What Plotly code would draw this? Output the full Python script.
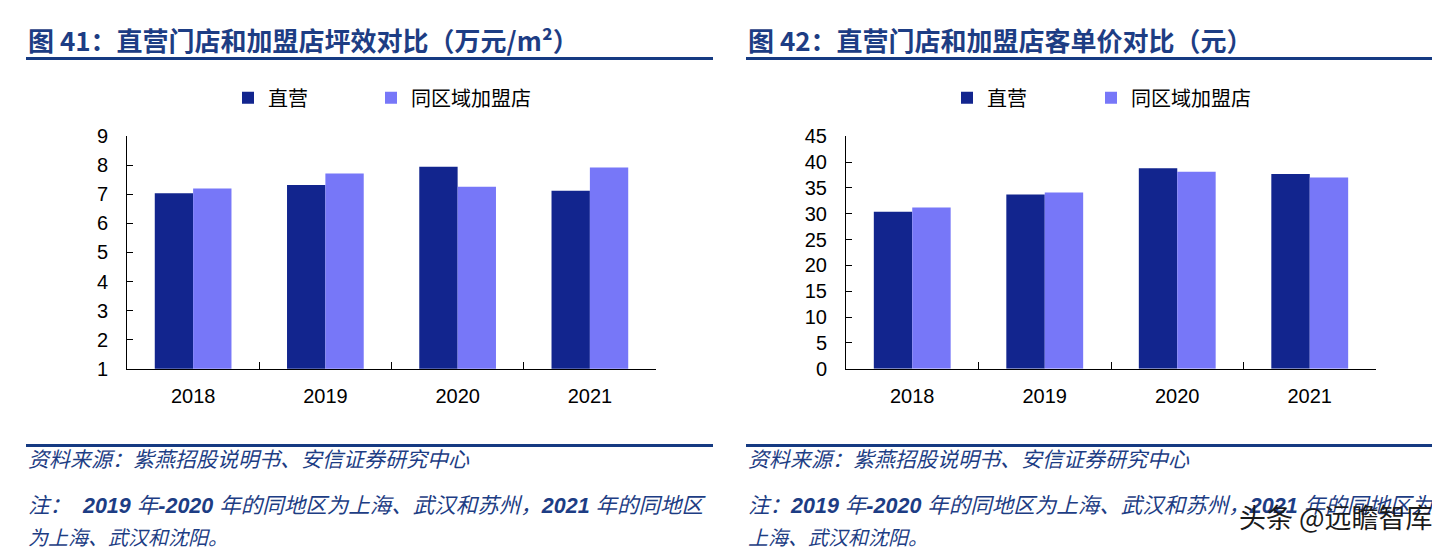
import plotly.graph_objects as go

# categories
years = ["2018", "2019", "2020", "2021"]

# 图41 坪效（万元/m2）
eff_direct = [7.04, 7.32, 7.95, 7.12]
eff_franchise = [7.20, 7.72, 7.26, 7.92]

# 图42 客单价（元）
price_direct = [30.4, 33.7, 38.8, 37.7]
price_franchise = [31.2, 34.1, 38.1, 37.0]

DARK = "#12258E"
LIGHT = "#7777F8"
BLUE = "#1D3D84"
W, H = 1440, 560

def px(x):
    return x / W

def py(y):
    return 1 - y / H

fig = go.Figure()
fig.add_trace(go.Bar(x=years, y=eff_direct, name="直营", marker_color=DARK,
                     xaxis="x", yaxis="y", legend="legend"))
fig.add_trace(go.Bar(x=years, y=eff_franchise, name="同区域加盟店", marker_color=LIGHT,
                     xaxis="x", yaxis="y", legend="legend2"))
fig.add_trace(go.Bar(x=years, y=price_direct, name="直营", marker_color=DARK,
                     xaxis="x2", yaxis="y2", legend="legend3"))
fig.add_trace(go.Bar(x=years, y=price_franchise, name="同区域加盟店", marker_color=LIGHT,
                     xaxis="x2", yaxis="y2", legend="legend4"))
fig.update_traces(marker_line_width=0, showlegend=True)

tickfont = dict(family="Liberation Sans, Arial", size=20, color="#000")
xcommon = dict(type="category", range=[-0.5, 3.5], showline=True, linecolor="#000",
               linewidth=1, ticks="inside", tickson="boundaries", ticklen=7,
               tickcolor="#000", tickfont=tickfont, showgrid=False, zeroline=False,
               ticklabelstandoff=9)
ycommon = dict(showline=True, linecolor="#000", linewidth=1, ticks="inside",
               ticklen=6, tickcolor="#000", tickfont=tickfont, showgrid=False,
               zeroline=False, ticklabelstandoff=14, domain=[py(364), py(122)])

legfont = dict(family="Noto Sans CJK SC", size=20, color="#000")
legcommon = dict(orientation="h", yanchor="middle", xanchor="left", font=legfont,
                 bgcolor="rgba(0,0,0,0)", itemclick=False, y=py(82))

fig.update_layout(
    width=W, height=H,
    margin=dict(l=0, r=0, t=0, b=0),
    paper_bgcolor="white", plot_bgcolor="white",
    showlegend=True,
    barmode="group", bargap=0.42, bargroupgap=0,
    xaxis=dict(xcommon, domain=[px(119), px(648)], anchor="y"),
    yaxis=dict(ycommon, range=[1, 9], dtick=1, anchor="x"),
    xaxis2=dict(xcommon, domain=[px(838), px(1368)], anchor="y2"),
    yaxis2=dict(ycommon, range=[0, 45], dtick=5, anchor="x2"),
    legend=dict(legcommon, x=px(220)),
    legend2=dict(legcommon, x=px(363)),
    legend3=dict(legcommon, x=px(939)),
    legend4=dict(legcommon, x=px(1083)),
)

titlefont = dict(family="Noto Sans CJK SC", size=26, color=BLUE)
srcfont = dict(family="Liberation Sans, Noto Sans CJK SC", size=21, color=BLUE)
notefont = dict(family="Liberation Sans, Noto Sans CJK SC", size=20, color=BLUE)
notefont1 = dict(notefont, size=21.5)

ann = [
    dict(text="<b>图 41：直营门店和加盟店坪效对比（万元/m²）</b>", x=px(18), y=py(21),
         font=titlefont),
    dict(text="<b>图 42：直营门店和加盟店客单价对比（元）</b>", x=px(738), y=py(21),
         font=titlefont),
    dict(text="<i>资料来源：紫燕招股说明书、安信证券研究中心</i>", x=px(18), y=py(459),
         font=srcfont),
    dict(text="<i>资料来源：紫燕招股说明书、安信证券研究中心</i>", x=px(738), y=py(459),
         font=srcfont),
    dict(text="<i>注：  <b>2019</b> 年<b>-2020</b> 年的同地区为上海、武汉和苏州，"
              "<b>2021</b> 年的同地区</i>",
         x=px(18), y=py(507), font=notefont1),
    dict(text="<i>为上海、武汉和沈阳。</i>", x=px(18), y=py(540), font=notefont),
    dict(text="<i>注：<b>2019</b> 年<b>-2020</b> 年的同地区为上海、武汉和苏州，"
              "<b>2021</b> 年的同地区为</i>",
         x=px(738), y=py(507), font=notefont1),
    dict(text="<i>上海、武汉和沈阳。</i>", x=px(738), y=py(540), font=notefont),
    dict(text="头条 @远瞻智库", x=px(1427), y=py(518), xanchor="right",
         font=dict(family="Noto Sans CJK SC", size=27, color="#1a1a1a")),
]
for a in ann:
    a.setdefault("xanchor", "left")
    a.update(xref="paper", yref="paper", yanchor="middle", showarrow=False)
fig.update_layout(annotations=ann)

shapes = []
for x0, x1 in [(18, 705), (738, 1425)]:
    for y in (41, 444):
        shapes.append(dict(type="line", xref="paper", yref="paper",
                           x0=px(x0), x1=px(x1), y0=py(y), y1=py(y),
                           line=dict(color="#153A82", width=3)))
fig.update_layout(shapes=shapes)

fig.write_html("out.html")
